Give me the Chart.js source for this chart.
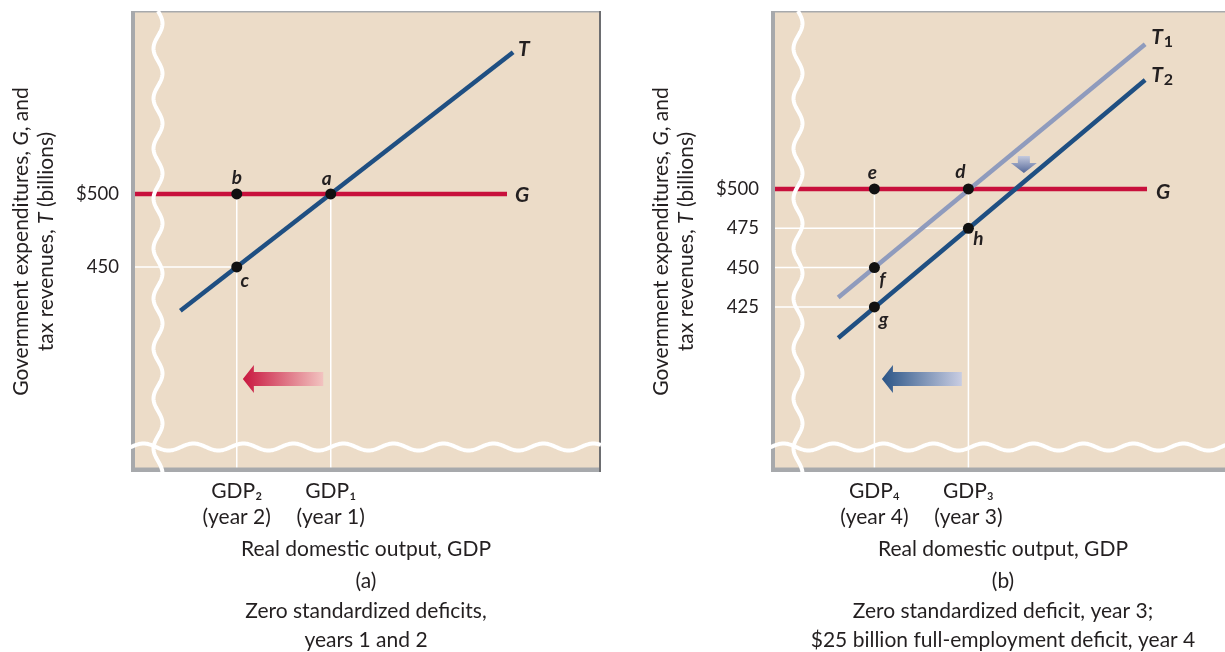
<!DOCTYPE html>
<html><head><meta charset="utf-8">
<script src="https://cdn.jsdelivr.net/npm/chart.js@4.4.1/dist/chart.umd.min.js"></script>
<style>
html,body{margin:0;padding:0;background:#fff;width:1225px;height:652px;overflow:hidden;position:relative;}
canvas{position:absolute;top:0;}
#ca{left:0px} #cb{left:640px}
</style></head><body>
<canvas id="ca" width="620" height="652"></canvas>
<canvas id="cb" width="601" height="652"></canvas>
<script>
// ---------- Panel (a) data ----------
const yTicksA = [450, 500];
const gdpA = [22.5, 42.5];
const gdpLabelsA = [['GDP\u2082', '(year 2)'], ['GDP\u2081', '(year 1)']];
const governmentA = [{x: 0, y: 500}, {x: 80, y: 500}];
const taxA = [{x: 10.5, y: 420}, {x: 81.3, y: 597}];
const pointsA = [{x: 22.5, y: 500}, {x: 42.5, y: 500}, {x: 22.5, y: 450}];
const pointNamesA = ['b', 'a', 'c'];
const captionA = ['(a)', 'Zero standardized deficits,', 'years 1 and 2'];

// ---------- Panel (b) data ----------
const yTicksB = [425, 450, 475, 500];
const gdpB = [22, 42];
const gdpLabelsB = [['GDP\u2084', '(year 4)'], ['GDP\u2083', '(year 3)']];
const governmentB = [{x: 0, y: 500}, {x: 80, y: 500}];
const tax1B = [{x: 14.3, y: 431}, {x: 79.6, y: 592}];
const tax2B = [{x: 14.3, y: 405.3}, {x: 79.6, y: 569.3}];
const pointsB = [{x: 42, y: 500}, {x: 22, y: 500}, {x: 22, y: 450}, {x: 22, y: 425}, {x: 42, y: 475}];
const pointNamesB = ['d', 'e', 'f', 'g', 'h'];
const captionB = ['(b)', 'Zero standardized deficit, year 3;', '$25 billion full-employment deficit, year 4'];

const xTitle = 'Real domestic output, GDP';
const yTitleLines = [
  [['Government expenditures, ', false], ['G', true], [', and', false]],
  [['tax revenues, ', false], ['T', true], [' (billions)', false]]
];

// ---------- styles ----------
const FONT = 'Lato, "Open Sans", sans-serif';
const INK = '#231f20';
const BG = '#ecdcc8';
const RED = '#c8103c';
const BLUE = '#1f4f82';
const LIGHT = '#8f9bbd';
const FRAME = '#a7a9ac';
const TXT = 21;

function guideLines(points, gdps, yTicks, xMin, yMin, gLevel) {
  const out = [];
  gdps.forEach(g => out.push([{x: g, y: yMin}, {x: g, y: gLevel}]));
  yTicks.filter(v => v < gLevel).forEach(v => {
    const p = points.filter(q => q.y === v).sort((m, n) => n.x - m.x)[0];
    out.push([{x: xMin, y: v}, {x: p.x, y: v}]);
  });
  return out;
}

function hArrow(ctx, xTip, xTail, y, cTip, cTail) {
  const g = ctx.createLinearGradient(xTip, 0, xTail, 0);
  g.addColorStop(0, cTip); g.addColorStop(1, cTail);
  ctx.fillStyle = g;
  ctx.beginPath();
  ctx.moveTo(xTip, y);
  ctx.lineTo(xTip + 11, y - 14);
  ctx.lineTo(xTip + 11, y - 7);
  ctx.lineTo(xTail, y - 7);
  ctx.lineTo(xTail, y + 7);
  ctx.lineTo(xTip + 11, y + 7);
  ctx.lineTo(xTip + 11, y + 14);
  ctx.closePath();
  ctx.fill();
}
function vArrow(ctx, x, yTop, yTip, cTop, cTip) {
  const g = ctx.createLinearGradient(0, yTop, 0, yTip);
  g.addColorStop(0, cTop); g.addColorStop(1, cTip);
  ctx.fillStyle = g;
  const headY = yTip - 10;
  ctx.beginPath();
  ctx.moveTo(x - 6, yTop);
  ctx.lineTo(x + 6, yTop);
  ctx.lineTo(x + 6, headY);
  ctx.lineTo(x + 13, headY);
  ctx.lineTo(x, yTip);
  ctx.lineTo(x - 13, headY);
  ctx.lineTo(x - 6, headY);
  ctx.closePath();
  ctx.fill();
}

const decorPlugin = {
  id: 'decor',
  beforeDraw(chart) {
    const {ctx, chartArea: a} = chart;
    ctx.save();
    ctx.fillStyle = BG;
    ctx.fillRect(a.left, a.top, a.right - a.left, a.bottom - a.top);
    ctx.restore();
  },
  afterDatasetsDraw(chart, args, o) {
    const {ctx, chartArea: a} = chart;
    const xs = chart.scales.x, ys = chart.scales.y;
    ctx.save();
    (o.arrows || []).forEach(ar => {
      if (ar.dir === 'h') {
        hArrow(ctx, xs.getPixelForValue(ar.tip), xs.getPixelForValue(ar.tail), ys.getPixelForValue(ar.y), ar.c1, ar.c2);
      } else {
        vArrow(ctx, xs.getPixelForValue(ar.x), ys.getPixelForValue(ar.top), ys.getPixelForValue(ar.tip), ar.c1, ar.c2);
      }
    });
    ctx.fillStyle = INK;
    ctx.textAlign = 'center';
    ctx.textBaseline = 'middle';
    ctx.font = 'italic bold 19px ' + FONT;
    const pmeta = chart.getDatasetMeta(o.pointDataset);
    o.pointNames.forEach((nm, i) => {
      const el = pmeta.data[i];
      const off = o.nameOffsets[i];
      ctx.fillText(nm, el.x + off[0], el.y + off[1]);
    });
    ctx.textAlign = 'left';
    o.endLabels.forEach(lb => {
      const meta = chart.getDatasetMeta(lb.ds);
      const el = meta.data[meta.data.length - 1];
      const x = el.x + lb.dx, y = el.y + lb.dy;
      ctx.font = 'italic bold 21px ' + FONT;
      ctx.fillText(lb.text, x, y);
      if (lb.sub) {
        const w = ctx.measureText(lb.text).width;
        ctx.font = 'bold 16px ' + FONT;
        ctx.fillText(lb.sub, x + w + 1, y + 5);
      }
    });
    ctx.fillStyle = FRAME;
    ctx.fillRect(a.left, a.top, 4, a.bottom - a.top);
    ctx.fillRect(a.left, a.bottom - 4.5, a.right - a.left, 4.5);
    ctx.fillRect(a.left, a.top, a.right - a.left, 1.5);
    if (o.rightBorder) {
      ctx.fillStyle = '#6d6e71';
      ctx.fillRect(a.right - 2, a.top, 2, a.bottom - a.top);
    }
    ctx.strokeStyle = '#ffffff';
    ctx.lineWidth = 4;
    ctx.beginPath();
    for (let y = a.top; y <= a.bottom + 1; y += 1) {
      const x = a.left + 27 + 4.5 * Math.sin((y - a.top) / 50 * 2 * Math.PI);
      if (y === a.top) ctx.moveTo(x, y); else ctx.lineTo(x, y);
    }
    ctx.stroke();
    ctx.beginPath();
    const yc = a.bottom - 25;
    for (let x = a.left - 2; x <= a.right; x += 1) {
      const y = yc + 3.5 * Math.sin((x - a.left) / 50 * 2 * Math.PI + Math.PI);
      if (x === a.left - 2) ctx.moveTo(x, y); else ctx.lineTo(x, y);
    }
    ctx.stroke();
    ctx.restore();
  },
  afterDraw(chart) {
    const {ctx, chartArea: a} = chart;
    const cy = (a.top + a.bottom) / 2;
    const xs = [a.left - 110, a.left - 85];
    ctx.save();
    ctx.fillStyle = INK;
    ctx.textBaseline = 'middle';
    ctx.textAlign = 'left';
    yTitleLines.forEach((segs, li) => {
      let total = 0;
      const widths = segs.map(([t, it]) => {
        ctx.font = (it ? 'italic ' : '') + TXT + 'px ' + FONT;
        const w = ctx.measureText(t).width; total += w; return w;
      });
      ctx.save();
      ctx.translate(xs[li], cy);
      ctx.rotate(-Math.PI / 2);
      let x = -total / 2;
      segs.forEach(([t, it], i) => {
        ctx.font = (it ? 'italic ' : '') + TXT + 'px ' + FONT;
        ctx.fillText(t, x, 0);
        x += widths[i];
      });
      ctx.restore();
    });
    ctx.restore();
  }
};

function makePanel(id, cfg) {
  const guides = guideLines(cfg.points, cfg.gdp, cfg.yTicks, cfg.xMin, cfg.yMin, 500);
  const datasets = [];
  datasets.push({data: cfg.points, showLine: false, pointRadius: 5.5, pointBackgroundColor: '#111', pointBorderWidth: 0, order: 0});
  cfg.lines.forEach(l => datasets.push({data: l.data, showLine: true, borderColor: l.color, borderWidth: 4.5, pointRadius: 0, order: l.order}));
  guides.forEach(g => datasets.push({data: g, showLine: true, borderColor: '#ffffff', borderWidth: 1.5, pointRadius: 0, order: 5}));
  return new Chart(document.getElementById(id), {
    type: 'scatter',
    data: {datasets},
    plugins: [decorPlugin],
    options: {
      responsive: false,
      animation: false,
      devicePixelRatio: 1,
      events: [],
      layout: {padding: {top: 11, left: 0, right: cfg.padRight, bottom: 0}},
      plugins: {
        legend: {display: false},
        tooltip: {enabled: false},
        title: {display: true, position: 'bottom', fullSize: false, text: cfg.caption, color: INK,
                font: {family: FONT, size: TXT, weight: 'normal', lineHeight: '29.5px'},
                padding: {top: 0, bottom: -3}},
        decor: cfg.decor
      },
      scales: {
        x: {
          type: 'linear', min: cfg.xMin, max: cfg.xMax,
          grid: {display: false, drawTicks: false}, border: {display: false},
          afterBuildTicks: s => { s.ticks = cfg.gdp.map(v => ({value: v})); },
          afterFit: s => { s.height = 94.5; s.paddingLeft = 0; s.paddingRight = 0; },
          ticks: {autoSkip: false, maxRotation: 0, padding: 6, color: INK,
                  font: {family: FONT, size: TXT, lineHeight: '26px'},
                  callback: (v, i) => cfg.gdpLabels[i]},
          title: {display: true, text: xTitle, color: INK, padding: {top: 0, bottom: 5},
                  font: {family: FONT, size: TXT, lineHeight: '24px'}}
        },
        y: {
          type: 'linear', min: cfg.yMin, max: cfg.yMax,
          grid: {display: false, drawTicks: false}, border: {display: false},
          afterBuildTicks: s => { s.ticks = cfg.yTicks.map(v => ({value: v})); },
          afterFit: s => { s.width = 131; s.paddingTop = 0; s.paddingBottom = 0; },
          ticks: {autoSkip: false, padding: 12, color: INK,
                  font: {family: FONT, size: 18.5},
                  callback: v => (v === 500 ? '$500' : String(v))}
        }
      }
    }
  });
}

makePanel('ca', {
  points: pointsA, gdp: gdpA, gdpLabels: gdpLabelsA, yTicks: yTicksA, caption: captionA,
  xMin: 0, xMax: 100, yMin: 309.6, yMax: 625.3, padRight: 19,
  lines: [{data: taxA, color: BLUE, order: 1}, {data: governmentA, color: RED, order: 2}],
  decor: {
    pointDataset: 0, pointNames: pointNamesA,
    nameOffsets: [[0, -16], [-4, -15], [8, 14]],
    endLabels: [{ds: 1, text: 'T', dx: 5, dy: -3}, {ds: 2, text: 'G', dx: 8, dy: 1}],
    arrows: [{dir: 'h', tip: 23.8, tail: 40.9, y: 373.3, c1: '#c8173f', c2: '#f2c3c0'}],
    rightBorder: true
  }
});

makePanel('cb', {
  points: pointsB, gdp: gdpB, gdpLabels: gdpLabelsB, yTicks: yTicksB, caption: captionB,
  xMin: 0, xMax: 98.72, yMin: 320.1, yMax: 613.1, padRight: 6,
  lines: [{data: tax1B, color: LIGHT, order: 1}, {data: tax2B, color: BLUE, order: 1}, {data: governmentB, color: RED, order: 2}],
  decor: {
    pointDataset: 0, pointNames: pointNamesB,
    nameOffsets: [[-8, -17], [-2, -16], [8, 12], [9, 13], [10, 11]],
    endLabels: [{ds: 1, text: 'T', sub: '1', dx: 6, dy: -7}, {ds: 2, text: 'T', sub: '2', dx: 6, dy: -5}, {ds: 3, text: 'G', dx: 9, dy: 3}],
    arrows: [
      {dir: 'h', tip: 23.6, tail: 40.6, y: 379.2, c1: '#2a5486', c2: '#c9cde2'},
      {dir: 'v', x: 53.8, top: 521, tip: 510.2, c1: '#c5cade', c2: '#55699a'}
    ],
    rightBorder: false
  }
});
</script></body></html>
